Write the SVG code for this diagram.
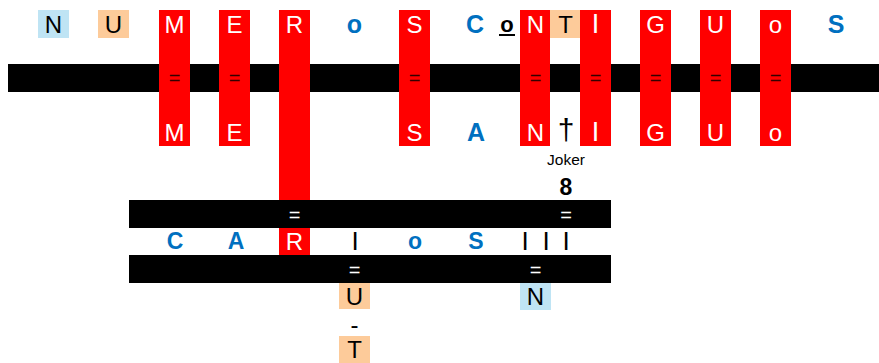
<svg xmlns="http://www.w3.org/2000/svg" width="879" height="363" viewBox="0 0 879 363">
<style>
text{font-family:"Liberation Sans",Arial,sans-serif;text-anchor:middle}
.red{fill:#ff0000}
.bar{fill:#000}
.lb{fill:#bfe4f4}
.or{fill:#fdcb9a}
.w{fill:#fff;font-size:24px}
.k{fill:#000;font-size:24px}
.b{fill:#0070c0;font-size:25px;font-weight:bold}
.b2{fill:#0070c0;font-size:23px;font-weight:bold}
.eq{fill:#300;font-size:20px}
.weq{fill:#fff;font-size:20px}
.tall{fill:#000;font-size:26px}
</style>
<rect width="879" height="363" fill="#fff"/>
<g id="connectors">
<rect class="bar" x="8" y="64" width="871" height="28"/>
<rect class="bar" x="129" y="200" width="482" height="28"/>
<rect class="bar" x="129" y="255" width="482" height="28"/>
</g>
<g id="n-top"><rect class="lb" x="38" y="10" width="31" height="28"/><text class="k" x="53.5" y="33">N</text></g>
<g id="u-top"><rect class="or" x="98" y="10" width="31" height="28"/><text class="k" x="113.5" y="33">U</text></g>
<g id="col-m"><rect class="red" x="159" y="10" width="31" height="136"/><text class="w" x="174.5" y="33">M</text><text class="eq" x="174.5" y="85">=</text><text class="w" x="174.5" y="141">M</text></g>
<g id="col-e"><rect class="red" x="219" y="10" width="31" height="136"/><text class="w" x="234.5" y="33">E</text><text class="eq" x="234.5" y="85">=</text><text class="w" x="234.5" y="141">E</text></g>
<g id="col-r"><rect class="red" x="279" y="10" width="31" height="190"/><text class="w" x="294.5" y="33">R</text><text class="weq" x="294.5" y="222">=</text><rect class="red" x="279" y="228" width="31" height="27"/><text class="w" x="294.5" y="250">R</text></g>
<g id="o-top"><text class="b" x="354.5" y="33">o</text></g>
<g id="col-s"><rect class="red" x="399" y="10" width="31" height="136"/><text class="w" x="414.5" y="33">S</text><text class="eq" x="414.5" y="85">=</text><text class="w" x="414.5" y="141">S</text></g>
<g id="c-top"><text class="b" x="475" y="33">C</text></g>
<g id="o-under"><text x="507" y="32" style="font-size:22px;font-weight:bold;fill:#000">o</text><rect x="499" y="34" width="16" height="2" fill="#000"/></g>
<g id="col-n"><rect class="red" x="520" y="10" width="30" height="136"/><text class="w" x="535.5" y="33">N</text><text class="eq" x="535.5" y="85">=</text><text class="w" x="535.5" y="141">N</text></g>
<g id="t-top"><rect class="or" x="550" y="10" width="30" height="28"/><text class="k" x="565.5" y="33">T</text></g>
<g id="col-i"><rect class="red" x="580" y="10" width="31" height="136"/><text class="w" x="595.5" y="33" style="font-size:27px">I</text><text class="eq" x="595.5" y="85">=</text><text class="w" x="595.5" y="141" style="font-size:27px">I</text></g>
<g id="col-g"><rect class="red" x="640" y="10" width="31" height="136"/><text class="w" x="655.5" y="33">G</text><text class="eq" x="655.5" y="85">=</text><text class="w" x="655.5" y="141">G</text></g>
<g id="col-u"><rect class="red" x="700" y="10" width="31" height="136"/><text class="w" x="715.5" y="33">U</text><text class="eq" x="715.5" y="85">=</text><text class="w" x="715.5" y="141">U</text></g>
<g id="col-o"><rect class="red" x="760" y="10" width="31" height="136"/><text class="w" x="775.5" y="33">o</text><text class="eq" x="775.5" y="85">=</text><text class="w" x="775.5" y="141">o</text></g>
<g id="s-top"><text class="b" x="836" y="33">S</text></g>
<g id="a-mid"><text class="b" x="476" y="141">A</text></g>
<g id="joker"><text x="566" y="140" style="font-size:30px;fill:#000">†</text><text x="566" y="165" style="font-size:15.5px;fill:#000">Joker</text><text x="566" y="195" style="font-size:23px;font-weight:bold;fill:#000">8</text><text class="weq" x="566" y="222">=</text></g>
<g id="carlos">
<text class="b2" x="175" y="249">C</text>
<text class="b2" x="236" y="249">A</text>
<text class="tall" x="355" y="250">I</text>
<text class="b2" x="415" y="249">o</text>
<text class="b2" x="476" y="249">S</text>
<text class="tall" x="525" y="250">I</text>
<text class="tall" x="546" y="250">I</text>
<text class="tall" x="566" y="250">I</text>
</g>
<g id="u-bottom"><text class="weq" x="354.5" y="277">=</text><rect class="or" x="339" y="283" width="31" height="26"/><text class="k" x="354.5" y="305">U</text><text x="354.5" y="333" style="font-size:24px;fill:#000">-</text><rect class="or" x="339" y="336" width="31" height="27"/><text class="k" x="354.5" y="358">T</text></g>
<g id="n-bottom"><text class="weq" x="535.5" y="277">=</text><rect class="lb" x="520" y="283" width="31" height="27"/><text class="k" x="535.5" y="305">N</text></g>
</svg>
